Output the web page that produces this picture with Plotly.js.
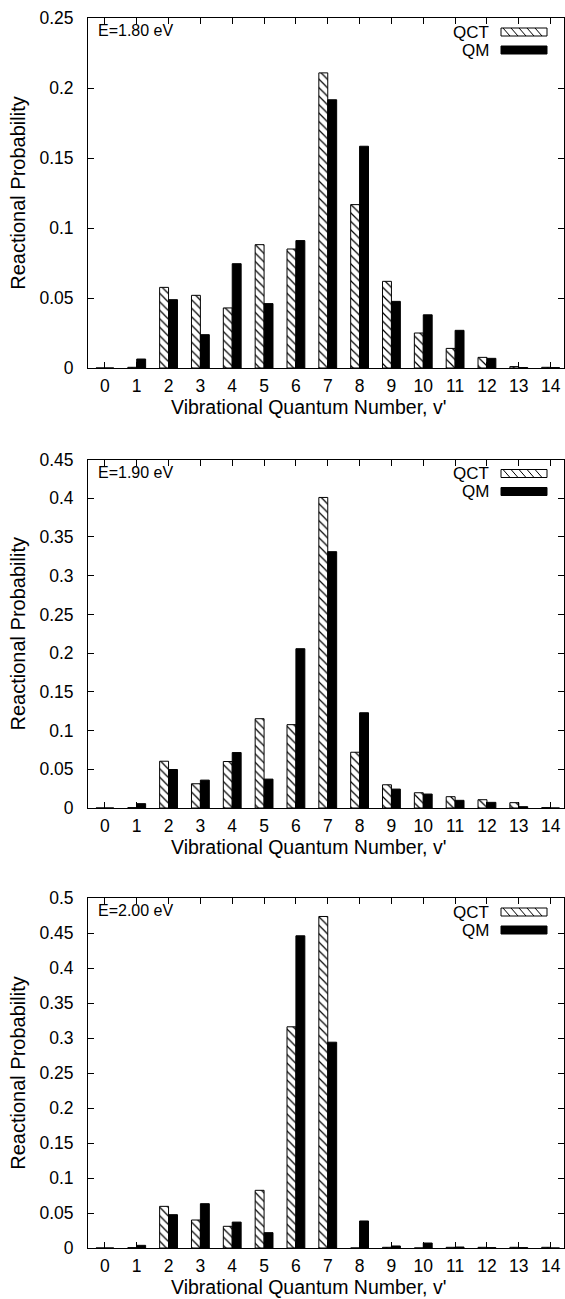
<!DOCTYPE html>
<html>
<head>
<meta charset="utf-8">
<script src="https://cdn.plot.ly/plotly-3.0.1.min.js"></script>
<style>html,body{margin:0;padding:0;background:#fff;}#chart{width:565px;height:1299px;}</style>
</head>
<body>
<div id="chart"></div>
<script>
// ---- data ----
const levels = [0,1,2,3,4,5,6,7,8,9,10,11,12,13,14];
const energyLabels = ["E=1.80 eV", "E=1.90 eV", "E=2.00 eV"];
const qct180 = [0, 0.0005, 0.0576, 0.0519, 0.0429, 0.0881, 0.085, 0.2108, 0.1167, 0.0619, 0.025, 0.014, 0.0076, 0.001, 0.0005];
const qm180  = [0, 0.0064, 0.0488, 0.0238, 0.0745, 0.046, 0.091, 0.1916, 0.1584, 0.0476, 0.038, 0.0269, 0.0069, 0.0003, 0.0003];
const qct190 = [0, 0.0005, 0.0604, 0.0313, 0.06, 0.1153, 0.1076, 0.401, 0.072, 0.030, 0.0197, 0.0146, 0.0107, 0.0069, 0.0005];
const qm190  = [0, 0.0056, 0.0497, 0.036, 0.0716, 0.0373, 0.2057, 0.331, 0.123, 0.0244, 0.018, 0.0099, 0.0073, 0.0017, 0];
const qct200 = [0, 0.0005, 0.0595, 0.040, 0.031, 0.0824, 0.316, 0.4736, 0, 0.001, 0, 0.001, 0.001, 0.001, 0.001];
const qm200  = [0, 0.0038, 0.0476, 0.0633, 0.037, 0.0219, 0.446, 0.294, 0.0386, 0.0029, 0.0071, 0.0014, 0.0005, 0.0005, 0];
const yMax = [0.25, 0.45, 0.5];
const seriesNames = ["QCT", "QM"];
const xTitle = "Vibrational Quantum Number, v'";
const yTitle = "Reactional Probability";

// ---- layout geometry ----
const W = 565, H = 1299, L = 88, R = 1;
const PW = W - L - R;
const panelsPx = [{top: 18, bottom: 368}, {top: 459.5, bottom: 808}, {top: 898, bottom: 1248}];
const FONT = "Liberation Sans, Arial, Helvetica, sans-serif";
const px2x = p => (p - L) / PW;
const px2y = p => (H - p) / H;

const qctSets = [qct180, qct190, qct200];
const qmSets = [qm180, qm190, qm200];

const traces = [];
const layout = {
  width: W, height: H,
  margin: {l: L, r: R, t: 0, b: 0},
  paper_bgcolor: "#fff", plot_bgcolor: "#fff",
  barmode: "group", bargap: 0.44, bargroupgap: 0,
  showlegend: false,
  font: {family: FONT, color: "#000", size: 17},
  shapes: [], annotations: []
};

for (let i = 0; i < 3; i++) {
  const sfx = i === 0 ? "" : String(i + 1);
  const xa = "x" + sfx, ya = "y" + sfx;
  traces.push({
    type: "bar", x: levels, y: qctSets[i], name: seriesNames[0],
    xaxis: xa, yaxis: ya,
    marker: {color: "#fff", line: {color: "#000", width: 1},
             pattern: {shape: "\\", fgcolor: "#000", bgcolor: "#fff", size: 6, solidity: 0.2}},
    hoverinfo: "x+y"
  });
  traces.push({
    type: "bar", x: levels, y: qmSets[i], name: seriesNames[1],
    xaxis: xa, yaxis: ya,
    marker: {color: "#000", line: {color: "#000", width: 1}},
    hoverinfo: "x+y"
  });
  const p = panelsPx[i];
  layout["xaxis" + sfx] = {
    anchor: ya, domain: [0, 1], range: [-0.53, 14.42],
    tickmode: "array", tickvals: levels, ticktext: levels.map(String),
    ticks: "inside", ticklen: 6, tickcolor: "#000", tickwidth: 1,
    showline: true, linecolor: "#000", linewidth: 1, mirror: "ticks",
    showgrid: false, zeroline: false,
    tickfont: {family: FONT, size: 17.5, color: "#000"},
    ticklabelstandoff: 2
  };
  layout["yaxis" + sfx] = {
    anchor: xa, domain: [px2y(p.bottom), px2y(p.top)], range: [0, yMax[i]],
    dtick: 0.05, tick0: 0,
    ticks: "inside", ticklen: 6, tickcolor: "#000", tickwidth: 1,
    showline: true, linecolor: "#000", linewidth: 1, mirror: "ticks",
    showgrid: false, zeroline: false,
    tickfont: {family: FONT, size: 17.5, color: "#000"},
    ticklabelstandoff: 10,
    title: {text: yTitle, font: {family: FONT, size: 20, color: "#000"}, standoff: 8}
  };
  // x-axis title
  layout.annotations.push({
    xref: "paper", yref: "paper", x: px2x(308), y: px2y(p.bottom + 39),
    xanchor: "center", yanchor: "middle", showarrow: false,
    text: xTitle, font: {family: FONT, size: 19.5, color: "#000"}
  });
  // energy label
  layout.annotations.push({
    xref: "paper", yref: "paper", x: px2x(96), y: px2y(p.top + 13),
    xanchor: "left", yanchor: "middle", showarrow: false,
    text: energyLabels[i], font: {family: FONT, size: 16, color: "#000"}
  });
  // legend texts
  [0, 1].forEach(k => {
    layout.annotations.push({
      xref: "paper", yref: "paper", x: px2x(491), y: px2y(p.top + 14 + 18 * k),
      xanchor: "right", yanchor: "middle", showarrow: false,
      text: seriesNames[k], font: {family: FONT, size: 17, color: "#000"}
    });
  });
  // legend samples
  const bx0 = 501, bx1 = 547;
  const t0 = p.top + 10, b0 = p.top + 18;
  layout.shapes.push({type: "rect", xref: "paper", yref: "paper",
    x0: px2x(bx0), x1: px2x(bx1), y0: px2y(b0), y1: px2y(t0),
    fillcolor: "#fff", line: {color: "#000", width: 1}});
  let path = "";
  for (let sx = bx0 + 2; sx < bx1 - 4; sx += 8) {
    const ex = Math.min(sx + 7, bx1);
    path += "M" + px2x(sx) + "," + px2y(t0) + " L" + px2x(ex) + "," + px2y(b0) + " ";
  }
  layout.shapes.push({type: "path", xref: "paper", yref: "paper", path: path,
    line: {color: "#000", width: 1}});
  const t1 = p.top + 28, b1 = p.top + 36;
  layout.shapes.push({type: "rect", xref: "paper", yref: "paper",
    x0: px2x(bx0), x1: px2x(bx1), y0: px2y(b1), y1: px2y(t1),
    fillcolor: "#000", line: {color: "#000", width: 1}});
}

Plotly.newPlot("chart", traces, layout, {displayModeBar: false, staticPlot: true});
</script>
</body>
</html>
